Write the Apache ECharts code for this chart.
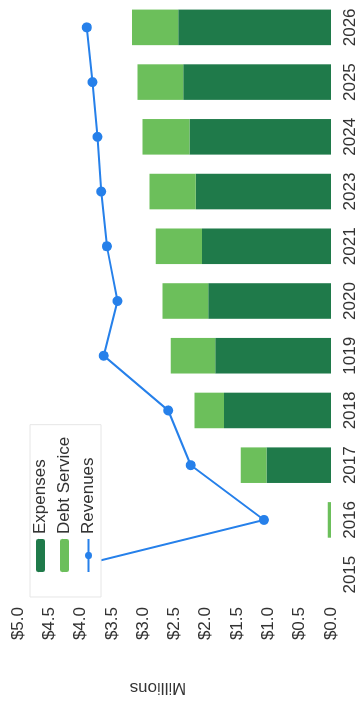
<!DOCTYPE html>
<html>
<head>
<meta charset="utf-8">
<script src="https://cdn.jsdelivr.net/npm/echarts@6/dist/echarts.min.js"></script>
<style>
  html, body { margin: 0; padding: 0; background: #fff; overflow: hidden; }
  /* chart is drawn landscape and turned a quarter turn, like the scanned page */
  #chart {
    position: absolute;
    left: -171px;
    top: 171px;
    width: 704px;
    height: 362px;
    transform: rotate(-90deg);
  }
</style>
</head>
<body>
<div id="chart"></div>
<script>
// categories (as printed, incl. the "1019" typo and no 2022)
const years = ['2015', '2016', '2017', '2018', '1019', '2020', '2021', '2023', '2024', '2025', '2026'];
// millions of dollars
const expenses = [0, 0, 1.03, 1.71, 1.85, 1.96, 2.06, 2.16, 2.26, 2.36, 2.44];
const debtService = [0, 0.05, 0.41, 0.47, 0.71, 0.73, 0.74, 0.74, 0.75, 0.73, 0.74];
const revenues = [4.6, 1.07, 2.24, 2.60, 3.63, 3.41, 3.58, 3.67, 3.73, 3.81, 3.90];
// value axis ticks
const valueMin = 0;
const valueMax = 5;
const valueStep = 0.5;

const font = "'Liberation Sans', Arial, sans-serif";
const textColor = '#333';

let chart = echarts.init(document.getElementById('chart'), null, { renderer: 'canvas' });

let option = {
        animation: false,
        textStyle: { fontFamily: font },
        color: ['#1f7a4a', '#6cbf5b', '#2680ea'],
        grid: {
                left: 102,
                width: 606,
                top: 18,
                bottom: 31
        },
        legend: {
                orient: 'vertical',
                left: 107,
                top: 30,
                padding: [2, 12, 4, 24],
                itemGap: 7,
                itemWidth: 33,
                itemHeight: 9,
                backgroundColor: '#fff',
                borderColor: '#e6e6e6',
                borderWidth: 1,
                data: ['Expenses', 'Debt Service', 'Revenues'],
                textStyle: {
                        fontFamily: font,
                        fontSize: 17,
                        color: textColor
                }
        },
        xAxis: {
                type: 'category',
                data: years,
                axisLine: { show: false },
                axisTick: { show: false },
                axisLabel: {
                        margin: 11,
                        fontFamily: font,
                        fontSize: 17,
                        color: textColor
                }
        },
        yAxis: {
                type: 'value',
                min: valueMin,
                max: valueMax,
                interval: valueStep,
                name: 'Millions',
                nameLocation: 'middle',
                nameGap: 77,
                nameTextStyle: {
                        fontFamily: font,
                        fontSize: 17,
                        color: textColor,
                        padding: [0, 0, 0, 33]
                },
                splitLine: { show: false },
                axisLine: { show: false },
                axisTick: { show: false },
                axisLabel: {
                        margin: 5,
                        fontFamily: font,
                        fontSize: 17,
                        color: textColor,
                        formatter: function (v) {
                                return '$' + v.toFixed(1);
                        }
                }
        },
        series: [{
                name: 'Expenses',
                type: 'bar',
                stack: 'cost',
                barWidth: '65%',
                data: expenses
        }, {
                name: 'Debt Service',
                type: 'bar',
                stack: 'cost',
                barWidth: '65%',
                data: debtService
        }, {
                name: 'Revenues',
                type: 'line',
                symbol: 'circle',
                symbolSize: 10,
                lineStyle: { width: 2 },
                data: revenues
        }]
};

chart.setOption(option);
</script>
</body>
</html>
